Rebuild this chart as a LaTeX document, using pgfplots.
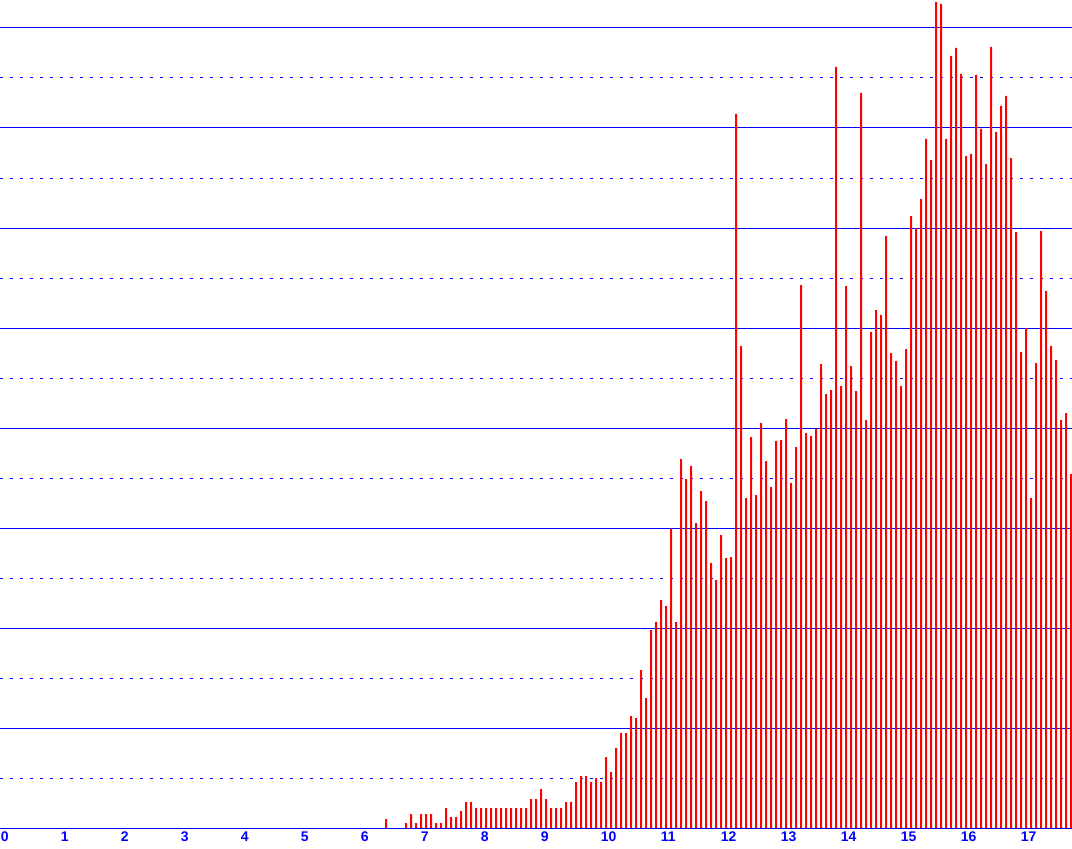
\documentclass[border=0pt]{standalone}
\usepackage{fontspec}
\setmainfont{Liberation Sans}
\usepackage{pgfplots}
\pgfplotsset{compat=1.18}
\begin{document}
\begin{tikzpicture}
\useasboundingbox (0,0) rectangle (536pt,424pt);
\begin{axis}[
  at={(0pt,10pt)}, anchor=south west,
  scale only axis, width=536pt, height=414pt,
  xmin=0, xmax=214.4, ymin=0, ymax=8.28,
  enlargelimits=false,
  axis x line*=bottom, axis y line*=left,
  x axis line style={blue, line width=0.5pt, -},
  y axis line style={draw=none, -},
  xtick={0,12,24,36,48,60,72,84,96,108,120,132,144,156,168,180,192,204},
  xticklabels={0,1,2,3,4,5,6,7,8,9,10,11,12,13,14,15,16,17},
  xticklabel style={anchor=north west, inner sep=0pt, yshift=-1.8pt, xshift=0.2pt, text=blue, font=\fontsize{7}{8}\selectfont\bfseries},
  ytick={1,2,3,4,5,6,7,8},
  minor ytick={0.5,1.5,2.5,3.5,4.5,5.5,6.5,7.5},
  yticklabels={},
  major tick length=0pt, minor tick length=0pt,
  tick style={draw=none},
  ymajorgrids=true, yminorgrids=true,
  major grid style={blue, line width=0.5pt, solid},
  minor grid style={blue, line width=0.5pt, dash pattern=on 1.5pt off 3.5pt},
  ybar, bar width=1pt,
]
\addplot[fill=red, draw=none, bar shift=0.5pt] coordinates {
(77,0.09) (81,0.05) (82,0.14) (83,0.05) (84,0.14) (85,0.14) (86,0.14) (87,0.05) (88,0.05)
(89,0.20) (90,0.11) (91,0.11) (92,0.17) (93,0.26) (94,0.26)
(95,0.20) (96,0.20) (97,0.20) (98,0.20) (99,0.20) (100,0.20) (101,0.20) (102,0.20) (103,0.20) (104,0.20) (105,0.20)
(106,0.29) (107,0.29) (108,0.39) (109,0.29) (110,0.20) (111,0.20) (112,0.20) (113,0.26) (114,0.26)
(115,0.46) (116,0.52) (117,0.52) (118,0.46) (119,0.50) (120,0.46)
(121,0.71) (122,0.56) (123,0.80) (124,0.95) (125,0.95) (126,1.12) (127,1.10) (128,1.58) (129,1.30)
(130,1.98) (131,2.06) (132,2.28) (133,2.22) (134,2.99) (135,2.06) (136,3.69) (137,3.49) (138,3.62)
(139,3.05) (140,3.37) (141,3.27) (142,2.65) (143,2.48) (144,2.93) (145,2.70) (146,2.71)
(147,7.14) (148,4.82) (149,3.30) (150,3.91) (151,3.33) (152,4.05) (153,3.67) (154,3.41) (155,3.87)
(156,3.88) (157,4.09) (158,3.45) (159,3.81) (160,5.43) (161,3.95) (162,3.92) (163,3.99) (164,4.64)
(165,4.34) (166,4.38) (167,7.61) (168,4.42) (169,5.42) (170,4.62) (171,4.37) (172,7.35) (173,4.08)
(174,4.96) (175,5.18) (176,5.13) (177,5.92) (178,4.75) (179,4.67) (180,4.42) (181,4.79) (182,6.12)
(183,6.00) (184,6.29) (185,6.89) (186,6.68) (187,8.26) (188,8.24) (189,6.89) (190,7.72) (191,7.80)
(192,7.54) (193,6.72) (194,6.74) (195,7.53) (196,6.99) (197,6.64) (198,7.81) (199,6.96) (200,7.22)
(201,7.32) (202,6.70) (203,5.96) (204,4.76) (205,5.00) (206,3.30) (207,4.65) (208,5.97) (209,5.37)
(210,4.82) (211,4.68) (212,4.08) (213,4.15) (214,3.54)
};
\end{axis}
\end{tikzpicture}
\end{document}
